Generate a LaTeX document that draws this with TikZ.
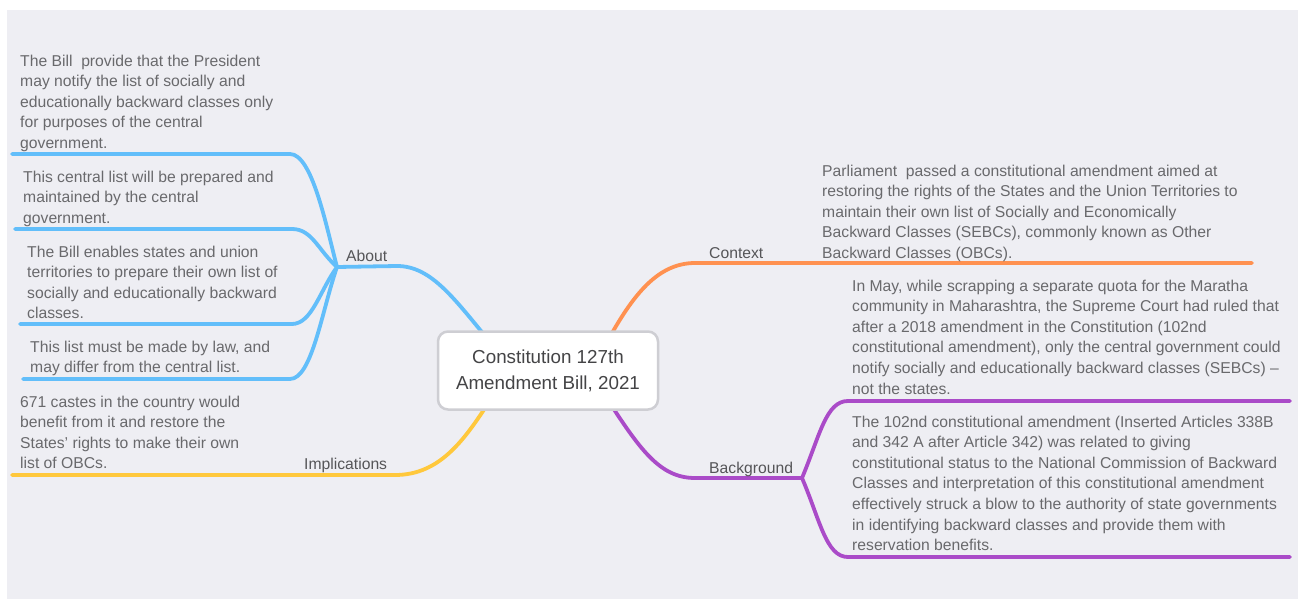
\documentclass[tikz,border=0pt]{standalone}
\usepackage{fontspec}
\setmainfont{Liberation Sans}
\usetikzlibrary{calc}

\definecolor{canvas}{RGB}{238,238,243}
\definecolor{notegray}{RGB}{105,105,108}
\definecolor{lblgray}{RGB}{85,85,88}
\definecolor{topicgray}{RGB}{68,68,70}
\definecolor{topicrim}{RGB}{206,206,211}
\definecolor{aboutblue}{RGB}{98,190,250}
\definecolor{implyellow}{RGB}{255,200,60}
\definecolor{ctxorange}{RGB}{255,145,80}
\definecolor{bgpurple}{RGB}{170,75,200}

\pgfdeclarelayer{bg}
\pgfdeclarelayer{lines}
\pgfsetlayers{bg,lines,main}

\tikzset{
  note/.style={anchor=north west, align=left, inner sep=0pt, text=notegray,
    font=\fontsize{15.7}{20.6}\selectfont, execute at begin node=\strut},
  branchlbl/.style={anchor=base west, inner sep=0pt, text=lblgray,
    font=\fontsize{15.7}{20.6}\selectfont},
  topic/.style={draw=topicrim, line width=2.5pt, fill=white, rounded corners=10pt,
    minimum width=220pt, minimum height=78pt, align=center, text=topicgray,
    font=\fontsize{18.8}{26}\selectfont},
  branch/.style={line width=3.8pt, line cap=round}
}

\begin{document}
\begin{tikzpicture}[x=1pt,y=-1pt]
  \useasboundingbox (0,0) rectangle (1298,599);
  \begin{pgfonlayer}{bg}
    \fill[canvas] (7,10) rectangle (1298,599);
  \end{pgfonlayer}

  %Central topic
  \node[topic] (ctr) at (548,370.5) {Constitution 127th\\Amendment Bill, 2021};

  %Branch labels
  \node[branchlbl] (about) at (346,261) {About};
  \node[branchlbl] (impl) at (304,469) {Implications};
  \node[branchlbl] (ctx) at (709,258) {Context};
  \node[branchlbl] (bgd) at (709,473) {Background};

  %Notes under About
  \node[note] (ab1) at (20,54.6) {The Bill\ \ provide that the President\\may notify the list of socially and\\educationally backward classes only\\for purposes of the central\\government.};
  \node[note] (ab2) at (23,170.6) {This central list will be prepared and\\maintained by the central\\government.};
  \node[note] (ab3) at (27,245.6) {The Bill enables states and union\\territories to prepare their own list of\\socially and educationally backward\\classes.};
  \node[note] (ab4) at (30,340.6) {This list must be made by law, and\\may differ from the central list.};

  %Note under Implications
  \node[note] (im1) at (20,395.6) {671 castes in the country would\\benefit from it and restore the\\States’ rights to make their own\\list of OBCs.};

  %Note under Context
  \node[note] (cx1) at (822,164.6) {Parliament\ \ passed a constitutional amendment aimed at\\restoring the rights of the States and the Union Territories to\\maintain their own list of Socially and Economically\\Backward Classes (SEBCs), commonly known as Other\\Backward Classes (OBCs).};

  %Notes under Background
  \node[note] (bg1) at (852,279.6) {In May, while scrapping a separate quota for the Maratha\\community in Maharashtra, the Supreme Court had ruled that\\after a 2018 amendment in the Constitution (102nd\\constitutional amendment), only the central government could\\notify socially and educationally backward classes (SEBCs) –\\not the states.};
  \node[note] (bg2) at (852,415.6) {The 102nd constitutional amendment (Inserted Articles 338B\\and 342 A after Article 342) was related to giving\\constitutional status to the National Commission of Backward\\Classes and interpretation of this constitutional amendment\\effectively struck a blow to the authority of state governments\\in identifying backward classes and provide them with\\reservation benefits.};

  %Hubs and free line ends
  \coordinate (aboutHub) at (337,267);
  \coordinate (bgHub) at (802,478);
  \coordinate (ab1End) at (12,154);
  \coordinate (ab2End) at (15,229);
  \coordinate (ab3End) at (20,324);
  \coordinate (ab4End) at (23,379);
  \coordinate (implEnd) at (12,475);
  \coordinate (ctxEnd) at (1252,263);
  \coordinate (bg1End) at (1290,401);
  \coordinate (bg2End) at (1290,557);

  \begin{pgfonlayer}{lines}
    %About branch
    \draw[branch, aboutblue] ($(ctr.center)+(-55,-25)$) .. controls (455,300) and (432,266) .. (397,266) -- (aboutHub);
    \draw[branch, aboutblue] (aboutHub) .. controls (326,225) and (312,154) .. (290,154) -- (ab1End);
    \draw[branch, aboutblue] (aboutHub) .. controls (318,250) and (312,229) .. (292,229) -- (ab2End);
    \draw[branch, aboutblue] (aboutHub) .. controls (320,290) and (312,324) .. (292,324) -- (ab3End);
    \draw[branch, aboutblue] (aboutHub) .. controls (322,310) and (312,379) .. (290,379) -- (ab4End);

    %Implications branch
    \draw[branch, implyellow] ($(ctr.center)+(-55,25)$) .. controls (465,440) and (440,475) .. (395,475) -- (implEnd);

    %Context branch
    \draw[branch, ctxorange] ($(ctr.center)+(57,-25)$) .. controls (630,300) and (655,263) .. (695,263) -- (ctxEnd);

    %Background branch
    \draw[branch, bgpurple] ($(ctr.center)+(57,25)$) .. controls (640,450) and (660,478) .. (695,478) -- (bgHub);
    \draw[branch, bgpurple] (bgHub) .. controls (820,435) and (826,401) .. (848,401) -- (bg1End);
    \draw[branch, bgpurple] (bgHub) .. controls (820,520) and (826,557) .. (848,557) -- (bg2End);
  \end{pgfonlayer}

\end{tikzpicture}
\end{document}
